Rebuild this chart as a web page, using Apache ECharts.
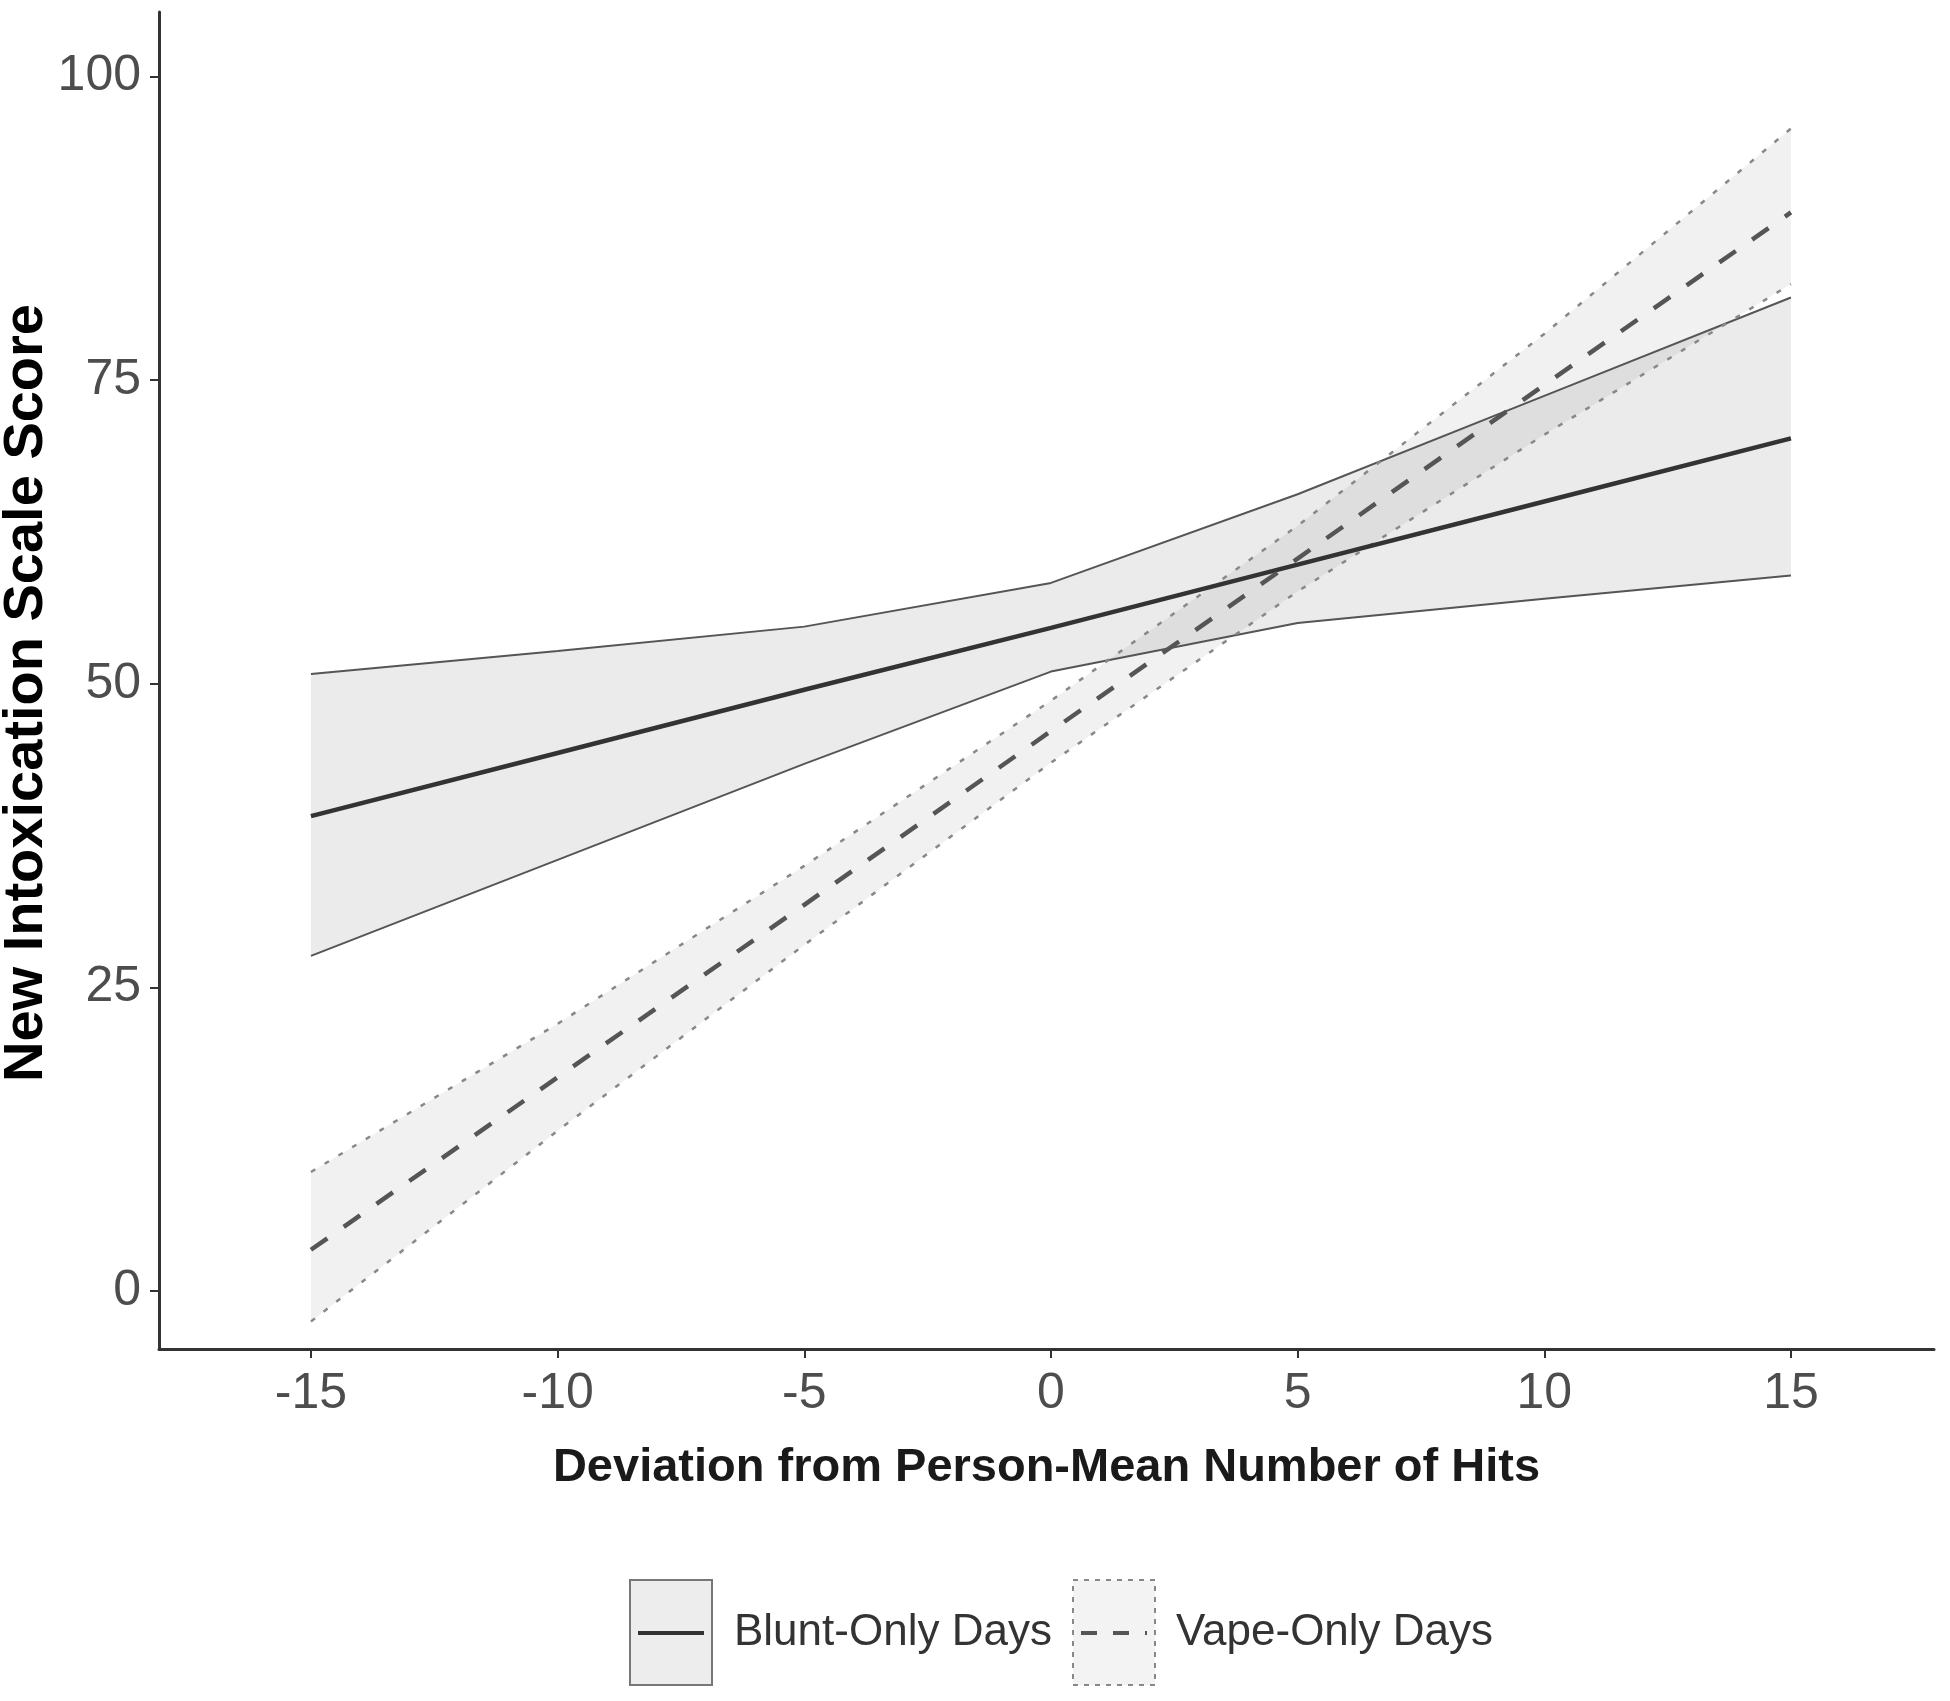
<!DOCTYPE html>
<html lang="en">
<head>
    <meta charset="UTF-8">
    <title>Intoxication by hits</title>
    <script src="https://cdn.jsdelivr.net/npm/echarts@6/dist/echarts.min.js"></script>
    <style>
        html, body { margin: 0; padding: 0; background: #fff; }
        #main { width: 1950px; height: 1701px; }
    </style>
</head>
<body>
<div id="main"></div>
<script>
    // x positions (deviation from person-mean hits)
    let xs = [-15, -10, -5, 0, 5, 10, 15];

    // blunt-only days: fit and 95% band
    let bluntMean  = [39.1, 44.3, 49.5, 54.6, 59.8, 65.0, 70.2];
    let bluntUpper = [50.8, 52.7, 54.7, 58.3, 65.6, 73.7, 81.8];
    let bluntLower = [27.6, 35.5, 43.4, 51.0, 55.0, 57.0, 58.9];

    // vape-only days: fit and 95% band
    let vapeMean  = [3.4, 17.6, 31.8, 46.1, 60.3, 74.6, 88.8];
    let vapeUpper = [9.8, 22.0, 35.0, 48.6, 63.0, 78.8, 95.7];
    let vapeLower = [-2.5, 13.2, 28.5, 43.5, 57.6, 70.5, 82.9];

    let xTicks = [-15, -10, -5, 0, 5, 10, 15];
    let yTicks = [0, 25, 50, 75, 100];

    function pairs(ys) {
        return xs.map(function (x, i) { return [x, ys[i]]; });
    }

    function band(name, lo, hi, fill) {
        return {
            name: name,
            type: 'custom',
            silent: true,
            z: 1,
            encode: {x: 0, y: [1, 2]},
            data: xs.map(function (x, i) { return [x, lo[i], hi[i]]; }),
            renderItem: function (params, api) {
                if (params.dataIndex !== 0) return null;
                let top = xs.map(function (x, i) { return api.coord([x, hi[i]]); });
                let bot = xs.map(function (x, i) { return api.coord([x, lo[i]]); }).reverse();
                return {
                    type: 'polygon',
                    shape: {points: top.concat(bot)},
                    style: {fill: fill}
                };
            }
        };
    }

    function line(ys, color, width, type, z) {
        return {
            type: 'line',
            data: pairs(ys),
            showSymbol: false,
            silent: true,
            z: z,
            lineStyle: {color: color, width: width, type: type}
        };
    }

    let myChart = echarts.init(document.getElementById('main'));
    let font = 'Liberation Sans, Arial, sans-serif';
    let option = {
        backgroundColor: '#ffffff',
        animation: false,
        grid: {left: 159, right: 16, top: 12, bottom: 352},
        xAxis: {
            type: 'value',
            min: -18.08,
            max: 17.9,
            name: 'Deviation from Person-Mean Number of Hits',
            nameLocation: 'middle',
            nameGap: 96,
            nameTextStyle: {fontFamily: font, fontSize: 47, fontWeight: 'bold', color: '#1a1a1a'},
            axisLine: {onZero: false, lineStyle: {color: '#333', width: 3}},
            axisTick: {show: true, length: 9, lineStyle: {color: '#333', width: 2}, customValues: xTicks},
            axisLabel: {
                fontFamily: font, fontSize: 50, color: '#4d4d4d', margin: 20,
                customValues: xTicks
            },
            splitLine: {show: false}
        },
        yAxis: {
            type: 'value',
            min: -4.77,
            max: 105.3,
            axisLine: {show: true, onZero: false, lineStyle: {color: '#333', width: 3}},
            axisTick: {show: true, length: 9, lineStyle: {color: '#333', width: 2}, customValues: yTicks},
            axisLabel: {
                fontFamily: font, fontSize: 50, color: '#4d4d4d', margin: 18,
                customValues: yTicks
            },
            splitLine: {show: false}
        },
        graphic: [
            {
                type: 'text', x: 27, y: 693, rotation: Math.PI / 2,
                style: {
                    text: 'New Intoxication Scale Score', fontFamily: font, fontSize: 56,
                    fontWeight: 'bold', fill: '#000', align: 'center', verticalAlign: 'middle'
                }
            },
            // legend keys
            {type: 'rect', shape: {x: 630, y: 1580, width: 82, height: 105},
                style: {fill: '#ededed', stroke: '#777', lineWidth: 2}},
            {type: 'line', shape: {x1: 638, y1: 1633, x2: 704, y2: 1633},
                style: {stroke: '#333', lineWidth: 4}},
            {type: 'text', x: 734, y: 1633,
                style: {text: 'Blunt-Only Days', fontFamily: font, fontSize: 44, fill: '#333', verticalAlign: 'middle'}},
            {type: 'rect', shape: {x: 1073, y: 1580, width: 82, height: 105},
                style: {fill: '#f3f3f3', stroke: '#888', lineWidth: 2, lineDash: [5, 6]}},
            {type: 'line', shape: {x1: 1081, y1: 1633, x2: 1147, y2: 1633},
                style: {stroke: '#555', lineWidth: 4, lineDash: [16, 16]}},
            {type: 'text', x: 1176, y: 1633,
                style: {text: 'Vape-Only Days', fontFamily: font, fontSize: 44, fill: '#333', verticalAlign: 'middle'}}
        ],
        series: [
            band('Blunt-Only Days', bluntLower, bluntUpper, 'rgba(0,0,0,0.08)'),
            band('Vape-Only Days', vapeLower, vapeUpper, 'rgba(0,0,0,0.055)'),
            line(bluntUpper, '#555', 2, 'solid', 3),
            line(bluntLower, '#555', 2, 'solid', 3),
            line(vapeUpper, '#888', 2.5, [5, 11], 3),
            line(vapeLower, '#888', 2.5, [5, 11], 3),
            line(bluntMean, '#333', 4.5, 'solid', 5),
            line(vapeMean, '#555', 4.5, [20, 20], 5)
        ]
    };
    myChart.setOption(option);
</script>
</body>
</html>
